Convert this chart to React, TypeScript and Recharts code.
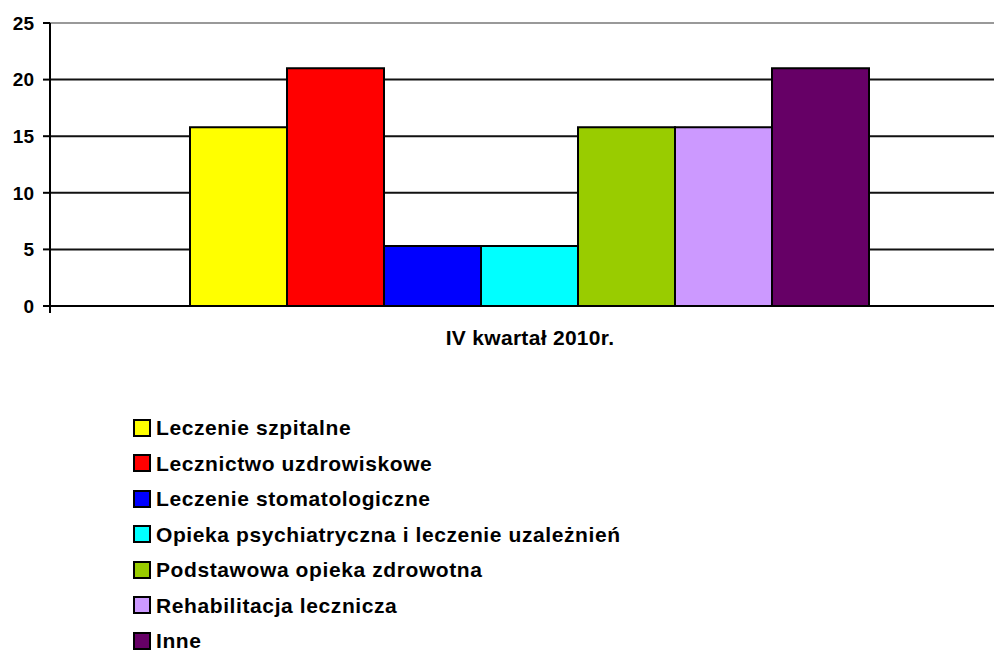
import { Bar, BarChart, CartesianGrid, ReferenceLine, XAxis, YAxis } from "recharts";

const seriesNames = [
  "Leczenie szpitalne",
  "Lecznictwo uzdrowiskowe",
  "Leczenie stomatologiczne",
  "Opieka psychiatryczna i leczenie uzależnień",
  "Podstawowa opieka zdrowotna",
  "Rehabilitacja lecznicza",
  "Inne",
];
const seriesValues = [15.8, 21.0, 5.3, 5.3, 15.8, 15.8, 21.0];
const seriesColors = ["#FFFF00", "#FF0000", "#0000FF", "#00FFFF", "#99CC00", "#CC99FF", "#660066"];
const category = "IV kwartał 2010r.";
const yTicks = [0, 5, 10, 15, 20, 25];

const FONT = "'Liberation Sans', Arial, sans-serif";

const row: Record<string, string | number> = { name: category };
seriesNames.forEach((n, i) => {
  row[`s${i}`] = seriesValues[i];
});
const data = [row];

function CategoryTick(props: any) {
  const { x, y, payload, width } = props;
  const left = typeof width === "number" ? x - width / 2 : null;
  return (
    <g>
      {left !== null && <line x1={left} y1={y} x2={left} y2={y + 7} stroke="#000" strokeWidth={2} />}
      <text
        x={x + 2}
        y={y + 31}
        textAnchor="middle"
        dominantBaseline="central"
        fontFamily={FONT}
        fontWeight="bold"
        fontSize={21}
        letterSpacing={0.3}
        fill="#000"
      >
        {payload.value}
      </text>
    </g>
  );
}

export default function App() {
  return (
    <div
      style={{
        position: "absolute",
        left: 0,
        top: 0,
        width: 994,
        height: 651,
        overflow: "hidden",
        background: "#fff",
        fontFamily: FONT,
      }}
    >
      <BarChart
        width={1006}
        height={360}
        data={data}
        margin={{ top: 23, right: 0, left: 0, bottom: 0 }}
        barCategoryGap={140}
        barGap={0}
      >
        <CartesianGrid vertical={false} stroke="#111" strokeWidth={2} />
        <ReferenceLine y={25} stroke="#999" strokeWidth={2} />
        <XAxis
          dataKey="name"
          height={54}
          tickSize={0}
          tickMargin={0}
          tickLine={false}
          axisLine={{ stroke: "#000", strokeWidth: 2 }}
          tick={<CategoryTick />}
        />
        <YAxis
          width={50}
          domain={[0, 25]}
          ticks={yTicks}
          interval={0}
          tickSize={7}
          tickMargin={9}
          axisLine={{ stroke: "#000", strokeWidth: 2 }}
          tickLine={{ stroke: "#000", strokeWidth: 2 }}
          tick={{ fill: "#000", fontSize: 19, fontWeight: "bold", fontFamily: FONT }}
        />
        {seriesNames.map((n, i) => (
          <Bar
            key={n}
            dataKey={`s${i}`}
            name={n}
            fill={seriesColors[i]}
            stroke="#000"
            strokeWidth={2}
            isAnimationActive={false}
          />
        ))}
      </BarChart>
      <div style={{ position: "absolute", left: 133, top: 410 }}>
        {seriesNames.map((n, i) => (
          <div key={n} style={{ display: "flex", alignItems: "center", height: 35.5 }}>
            <span
              style={{
                display: "inline-block",
                width: 14,
                height: 14,
                background: seriesColors[i],
                border: "2px solid #000",
                marginRight: 5,
              }}
            />
            <span style={{ fontSize: 21, fontWeight: "bold", letterSpacing: 0.6, color: "#000", lineHeight: 1 }}>
              {n}
            </span>
          </div>
        ))}
      </div>
    </div>
  );
}
